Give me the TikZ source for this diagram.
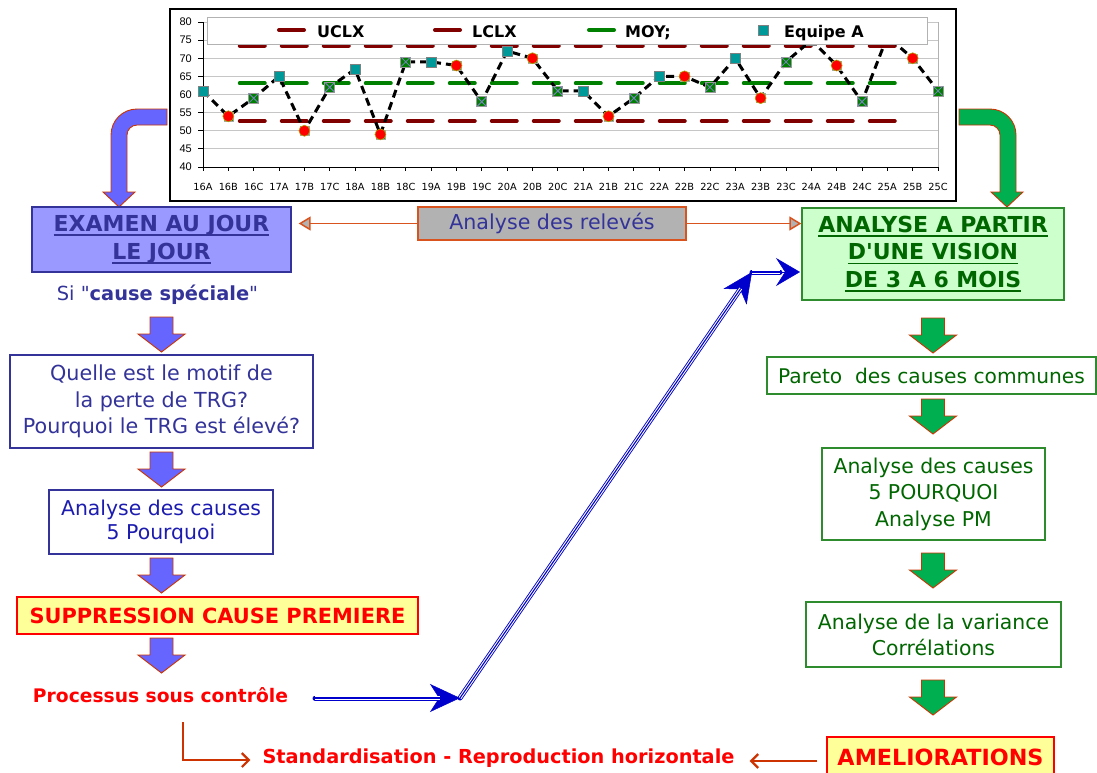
\documentclass[tikz,border=0pt]{standalone}
\usepackage{fontspec}
\setmainfont{DejaVu Sans}[Ligatures=TeXOff]
\newfontfamily\axisfont{Liberation Sans}
\usetikzlibrary{arrows.meta}
\definecolor{dkblue}{HTML}{333399}
\definecolor{txtblue}{HTML}{1C1CB0}
\definecolor{lavender}{HTML}{9999FF}
\definecolor{arrblue}{HTML}{6666FF}
\definecolor{arrgreen}{HTML}{00B050}
\definecolor{orangered}{HTML}{D9531E}
\definecolor{rustc}{HTML}{CC3300}
\definecolor{dkgreen}{HTML}{006600}
\definecolor{boxgreen}{HTML}{2E8B2E}
\definecolor{lightgreen}{HTML}{CCFFCC}
\definecolor{lightyellow}{HTML}{FFFF99}
\definecolor{relgray}{HTML}{B2B2B2}
\definecolor{dkred}{HTML}{800000}
\definecolor{mgreen}{HTML}{008000}
\definecolor{teal2}{HTML}{009999}
\definecolor{arrowblue}{HTML}{0000CC}
\definecolor{xcol}{HTML}{8080D0}
\newcommand\ulin[1]{\setbox0\hbox{#1}\rlap{\rule[-4.5pt]{\wd0}{1.8pt}}\box0}
\newcommand\blockarrow[3]{%
  \filldraw[draw=rustc, line width=0.9pt, fill=#3, line join=miter]
   ({#1-11.5},{#2}) -- ({#1+11.5},{#2}) -- ({#1+11.5},{#2+17}) -- ({#1+23.5},{#2+17})
   -- ({#1},{#2+35}) -- ({#1-23.5},{#2+17}) -- ({#1-11.5},{#2+17}) -- cycle;}
\tikzset{
  bx/.style={draw, line width=1.3pt, align=center, inner sep=0pt},
  ctl/.style={line width=4pt, line cap=round, dash pattern=on 25pt off 17pt},
  legtext/.style={font=\bfseries\fontsize{16}{18}\selectfont, inner sep=0pt, anchor=base west},
  xlab/.style={font=\fontsize{9.8}{11}\selectfont, inner sep=0pt},
  ylab/.style={font=\axisfont\fontsize{11}{12}\selectfont, inner sep=0pt, anchor=east},
  relarrow/.style={orangered, line width=1.5pt, -{Triangle[length=12pt,width=14pt,fill=relgray]}},
  brownarrow/.style={rustc, line width=2.2pt, -{Straight Barb[length=7pt,width=14pt]}},
}
\newcommand\triplearrow[3]{% from, to, tip length
  \draw[arrowblue, line width=0.5pt, -{Stealth[length=#3,width=28pt,inset=9pt]}] (#1) -- (#2);
  \draw[arrowblue, line width=5pt, line cap=round, shorten >=20pt] (#1) -- (#2);
  \draw[white, line width=3.2pt, shorten >=20pt] (#1) -- (#2);
  \draw[arrowblue, line width=1.1pt, shorten >=20pt] (#1) -- (#2);}
\begin{document}
\begin{tikzpicture}[x=1pt,y=-1pt]
\useasboundingbox (0,0) rectangle (1097,772);
% ---------------- chart ----------------
\draw[black, line width=1.5pt, fill=white] (170,9) rectangle (956,201);
\begin{scope}[shift={(203,312)}, x=25.345pt, y=3.625pt]
  \foreach \v in {45,50,...,80} \draw[gray!45, line width=0.8pt] (0,\v) -- (29,\v);
  \draw[gray!60, line width=0.8pt] (29,40) -- (29,80);
  \draw[black, line width=1pt] (0,80) -- (0,40) -- (29,40);
  \foreach \v in {40,45,...,80} {
    \draw[black, line width=0.8pt] (0,\v) -- ++(-5pt,0);
    \node[ylab] (yl\v) at ([xshift=-11pt]0,\v) {\v};
  }
  \foreach \lab [count=\i from 0] in {16A,16B,16C,17A,17B,17C,18A,18B,18C,19A,19B,19C,20A,20B,20C,21A,21B,21C,22A,22B,22C,23A,23B,23C,24A,24B,24C,25A,25B,25C} {
    \draw[black, line width=0.8pt] (\i,40) -- ++(0,-4pt);
    \node[xlab] (xl\i) at ([yshift=-20pt]\i,40) {\lab};
  }
  \draw[dkred, ctl] (1.45,73.5) -- (27.85,73.5);
  \draw[dkred, ctl] (1.45,52.7) -- (27.85,52.7);
  \draw[mgreen, ctl] (1.45,63.1) -- (27.85,63.1);
  \draw[black, line width=3pt, dash pattern=on 8pt off 5pt, line join=round]
    plot coordinates {(0,61) (1,54) (2,59) (3,65) (4,50) (5,62) (6,67) (7,49) (8,69) (9,69)
      (10,68) (11,58) (12,72) (13,70) (14,61) (15,61) (16,54) (17,59) (18,65) (19,65)
      (20,62) (21,70) (22,59) (23,69) (24,75) (25,68) (26,58) (27,76) (28,70) (29,61)};
  \foreach \v [count=\i from 0] in {61,54,59,65,50,62,67,49,69,69,68,58,72,70,61,61,54,59,65,65,62,70,59,69,75,68,58,76,70,61} {
    \pgfmathtruncatemacro\m{mod(\i,3)}
    \ifnum\m=0
      \filldraw[fill=teal2, draw=gray, line width=0.7pt] ([shift={(-5pt,-5pt)}]\i,\v) rectangle ([shift={(5pt,5pt)}]\i,\v);
    \fi
    \ifnum\m=1
      \filldraw[fill=mgreen, draw=gray!70, line width=0.5pt] ([shift={(-4.5pt,-4.5pt)}]\i,\v) rectangle ([shift={(4.5pt,4.5pt)}]\i,\v);
      \filldraw[fill=red, draw=olive!70!yellow, line width=0.6pt] (\i,\v) circle[radius=5.5pt];
    \fi
    \ifnum\m=2
      \filldraw[fill=mgreen, draw=gray!80, line width=0.7pt] ([shift={(-5pt,-5pt)}]\i,\v) rectangle ([shift={(5pt,5pt)}]\i,\v);
      \draw[xcol, line width=0.8pt] ([shift={(-4.5pt,-4.5pt)}]\i,\v) -- ([shift={(4.5pt,4.5pt)}]\i,\v)
        ([shift={(-4.5pt,4.5pt)}]\i,\v) -- ([shift={(4.5pt,-4.5pt)}]\i,\v);
    \fi
  }
\end{scope}
% legend
\filldraw[fill=white, draw=gray!60, line width=0.8pt] (207,17) rectangle (927,44);
\draw[dkred, line width=4pt, line cap=round] (279,30) -- (304,30);
\node[legtext] (lgU) at (317,37.3) {UCLX};
\draw[dkred, line width=4pt, line cap=round] (435,30) -- (460,30);
\node[legtext] (lgL) at (472,37.3) {LCLX};
\draw[mgreen, line width=4pt, line cap=round] (589,30) -- (614,30);
\node[legtext] (lgM) at (625,37.3) {MOY;};
\filldraw[fill=teal2, draw=gray, line width=0.7pt] (758,25) rectangle (768,35);
\node[legtext] (lgE) at (784,37.3) {Equipe A};
% ---------------- bent arrows ----------------
\filldraw[draw=rustc, line width=0.9pt, fill=arrblue, line join=miter]
  (167,109) -- (137,109) .. controls (122.6,109) and (111,120.6) .. (111,135)
  -- (111,192) -- (103,192) -- (119,207) -- (135,192) -- (127,192) -- (127,135)
  .. controls (127,129.5) and (131.5,125) .. (137,125) -- (167,125) -- cycle;
\filldraw[draw=rustc, line width=0.9pt, fill=arrgreen, line join=miter]
  (959,109) -- (990,109) .. controls (1004.4,109) and (1016,120.6) .. (1016,135)
  -- (1016,192) -- (1023,192) -- (1007,207) -- (991,192) -- (1000,192) -- (1000,135)
  .. controls (1000,129.5) and (995.5,125) .. (990,125) -- (959,125) -- cycle;
% ---------------- left column ----------------
\node[bx, draw=dkblue, fill=lavender, minimum width=259pt, minimum height=65pt, text=dkblue,
  font=\bfseries\fontsize{22}{28}\selectfont] (examen) at (161.5,239.5)
  {\ulin{EXAMEN AU JOUR}\\\ulin{LE JOUR}};
\node[text=dkblue, font=\fontsize{19.4}{24}\selectfont, inner sep=0pt] (si) at (157.5,295)
  {Si "\textbf{cause spéciale}"};
\blockarrow{161.5}{317}{arrblue}
\node[bx, draw=dkblue, fill=white, minimum width=303pt, minimum height=93pt, text=dkblue,
  font=\fontsize{20.7}{26.5}\selectfont] (quelle) at (161.5,401.5)
  {Quelle est le motif de\\la perte de TRG?\\Pourquoi le TRG est élevé?};
\blockarrow{161.5}{452}{arrblue}
\node[bx, draw=dkblue, fill=white, minimum width=224pt, minimum height=64pt, text=txtblue,
  font=\fontsize{20.4}{23.5}\selectfont] (causesL) at (161,522)
  {Analyse des causes\\5 Pourquoi};
\blockarrow{161.5}{558}{arrblue}
\node[bx, draw=red, fill=lightyellow, minimum width=401pt, minimum height=37pt, text=red,
  font=\bfseries\fontsize{20.9}{24}\selectfont] (suppr) at (217.5,615.5)
  {SUPPRESSION CAUSE PREMIERE};
\blockarrow{161.5}{638}{arrblue}
\node[text=red, font=\bfseries\fontsize{18.7}{22}\selectfont, inner sep=0pt] (processus) at (160.5,695)
  {Processus sous contrôle};
\node[text=red, font=\bfseries\fontsize{19.3}{22}\selectfont, inner sep=2pt] (standard) at (498.5,758)
  {Standardisation - Reproduction horizontale};
% ---------------- top middle ----------------
\node[bx, draw=orangered, fill=relgray, minimum width=268pt, minimum height=33pt, text=dkblue,
  font=\fontsize{20.6}{24}\selectfont] (releves) at (552,223.5) {Analyse des relevés};
% ---------------- right column ----------------
\node[bx, draw=boxgreen, fill=lightgreen, minimum width=262pt, minimum height=92pt, text=dkgreen,
  font=\bfseries\fontsize{22}{27.5}\selectfont] (analyse) at (933,254)
  {\ulin{ANALYSE A PARTIR}\\\ulin{D'UNE VISION}\\\ulin{DE 3 A 6 MOIS}};
\blockarrow{933}{318}{arrgreen}
\node[bx, draw=boxgreen, fill=white, minimum width=329pt, minimum height=37pt, text=dkgreen,
  font=\fontsize{20.2}{24}\selectfont] (pareto) at (931.5,375.5) {Pareto\ \ des causes communes};
\blockarrow{933}{399}{arrgreen}
\node[bx, draw=boxgreen, fill=white, minimum width=223pt, minimum height=92pt, text=dkgreen,
  font=\fontsize{20.4}{26.5}\selectfont] (causesR) at (933.5,494)
  {Analyse des causes\\5 POURQUOI\\Analyse PM};
\blockarrow{933}{553}{arrgreen}
\node[bx, draw=boxgreen, fill=white, minimum width=255pt, minimum height=65pt, text=dkgreen,
  font=\fontsize{20.4}{26}\selectfont] (variance) at (933.5,634.5)
  {Analyse de la variance\\Corrélations};
\blockarrow{933}{680}{arrgreen}
\node[bx, draw=red, fill=lightyellow, minimum width=227pt, minimum height=40pt, text=red,
  font=\bfseries\fontsize{22.3}{24}\selectfont] (amelio) at (940.5,757) {AMELIORATIONS};
% ---------------- connectors ----------------
\draw[relarrow, shorten >=7pt] (releves.west) -- (releves.west -| examen.east);
\draw[relarrow] (releves.east) -- (releves.east -| analyse.west);
\coordinate (b0) at (315,698);
\coordinate (b1) at (460,698);
\coordinate (b2) at (752,272);
\coordinate (b3) at (800,272);
\triplearrow{b0}{b1}{30pt}
\triplearrow{b1}{b2}{30pt}
\triplearrow{b2}{b3}{24pt}
\coordinate (lstart) at (183,722);
\draw[brownarrow, shorten >=10pt] (lstart) |- ([yshift=-2pt]standard.west);
\draw[brownarrow, shorten <=9pt, shorten >=13pt] ([yshift=-4pt]amelio.west) -- ([yshift=-4pt]amelio.west -| standard.east);
\end{tikzpicture}
\end{document}
